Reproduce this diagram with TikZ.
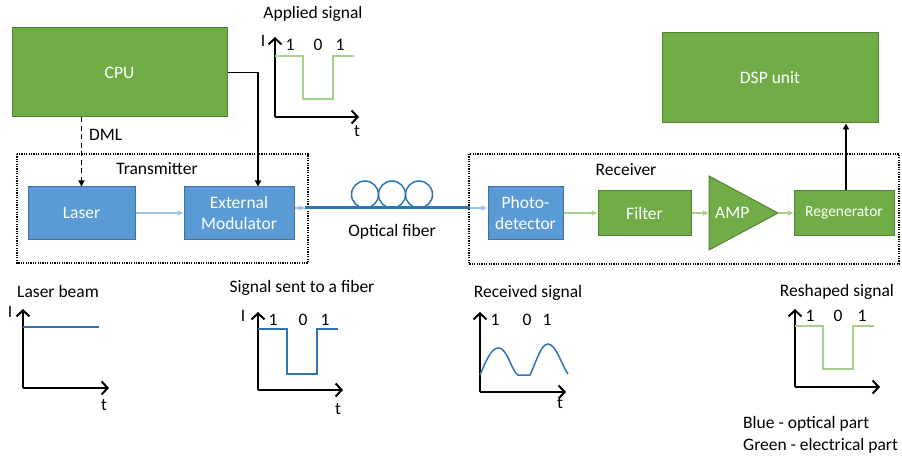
\documentclass[tikz,border=0pt]{standalone}
\usepackage{fontspec}
\setmainfont{Carlito}
\usetikzlibrary{arrows.meta,calc}
\definecolor{ggreen}{HTML}{70AD47}
\definecolor{gborder}{HTML}{548235}
\definecolor{bblue}{HTML}{5B9BD5}
\definecolor{bborder}{HTML}{41719C}
\definecolor{lgreen}{HTML}{A9D18E}
\definecolor{lblue}{HTML}{9DC3E6}
\definecolor{sblue}{HTML}{2E75B6}
\begin{document}
\begin{tikzpicture}[x=1pt,y=-1pt,
  every node/.style={font=\fontsize{17.5}{21}\selectfont, inner sep=0pt},
  gbox/.style={draw=gborder, line width=1pt, fill=ggreen, text=white, align=center},
  bbox/.style={draw=bborder, line width=1pt, fill=bblue, text=white, align=center},
  group/.style={draw=black, line width=1.4pt, dash pattern=on 1.2pt off 1.2pt},
  blk/.style={draw=black, line width=1.8pt, -{Triangle[length=6pt,width=6pt]}},
  lbarrow/.style={draw=lblue, line width=1.2pt, -{Triangle[length=6pt,width=5pt]}},
  lgarrow/.style={draw=lgreen, line width=1.5pt, -{Triangle[length=6pt,width=5pt]}},
  axis/.style={draw=black, line width=2pt, -{Straight Barb[length=6pt,width=13pt,line width=2pt]}},
  gsig/.style={draw=lgreen, line width=1.8pt},
  bsig/.style={draw=sblue, line width=1.5pt},
  lbl/.style={text=black}
]
\useasboundingbox (0,0) rectangle (902,457);

% main blocks
\node[gbox, minimum width=215pt, minimum height=89pt] (CPU) at (119.5,72.5) {CPU};
\node[gbox, minimum width=216pt, minimum height=90pt] (DSP) at (770,78) {DSP unit};
\node[bbox, minimum width=107pt, minimum height=52pt] (Laser) at (81.5,213) {Laser};
\node[bbox, minimum width=110pt, minimum height=52pt] (ExtMod) at (239,213) {External\\Modulator};
\node[bbox, minimum width=75pt, minimum height=52pt] (Photo) at (525.5,213) {Photo-\\detector};
\node[gbox, minimum width=93pt, minimum height=44pt] (Filter) at (644.5,213) {Filter};
\node[gbox, minimum width=100pt, minimum height=44pt, font=\fontsize{15.5}{19}\selectfont] (Regen) at (844,213) {Regenerator};
\draw[gborder, line width=1pt, fill=ggreen] (709,176) -- (778,213) -- (709,250) -- cycle;
\coordinate (ampin) at (709,213);
\coordinate (ampout) at (778,213);
\node[text=white, anchor=west] (AMP) at (715,213) {AMP};

% group boxes
\draw[group] (17,154) rectangle (308,263);
\draw[group] (469,154) rectangle (899,264);
\node (tx) at (157,169) {Transmitter};
\node (rx) at (626,170) {Receiver};

% connectors
\draw[blk, dash pattern=on 5pt off 3.5pt] (Laser.north |- CPU.south) -- (Laser.north);
\node[anchor=west] (dml) at (89,135) {DML};
\draw[blk] (CPU.east) -| ($(ExtMod.north)+(19,0)$);
\draw[lbarrow] (Laser.east) -- (ExtMod.west);
\coordinate (f1) at (305,208);
\coordinate (f2) at (470,208);
\draw[lbarrow] (ExtMod.east |- f1) -- (f1);
\draw[sblue, line width=3pt] (f1) -- (f2);
\draw[lbarrow] (f2) -- (Photo.west |- f2);
\foreach \cx in {365,392,419}
  \draw[sblue, line width=1.5pt] (\cx,194.5) circle (13.5pt);
\node (ofiber) at (392,232) {Optical fiber};
\draw[lgarrow] (Photo.east) -- (Filter.west);
\draw[lgarrow] (Filter.east) -- (ampin);
\draw[lgarrow] (ampout) -- (Regen.west);
\draw[blk] ($(Regen.north)+(2,0)$) -- ($(DSP.south)+(76,0)$);

% Applied signal
\node (t1) at (313,14) {Applied signal};
\coordinate (o1) at (275,117);
\draw[axis] (o1) -- (275,37);
\draw[axis] (o1) -- (359,117);
\node (I1) at (263,41) {I};
\node (tt1) at (357,131) {t};
\draw[gsig] (275,56) -- (303,56) -- (303,99) -- (333,99) -- (333,56) -- (354,56);
\node at (290,45) {1};
\node at (318,45) {0};
\node at (340,45) {1};

% Laser beam
\node (t2) at (58,291) {Laser beam};
\coordinate (o2) at (23,388);
\draw[axis] (o2) -- (23,309);
\draw[axis] (o2) -- (109,388);
\node at (10,312) {I};
\node at (104,405) {t};
\draw[bsig] (23,327) -- (99,327);

% Signal sent to a fiber
\node (t3) at (302,288) {Signal sent to a fiber};
\coordinate (o3) at (258,390);
\draw[axis] (o3) -- (258,312);
\draw[axis] (o3) -- (343,390);
\node at (243,316) {I};
\node at (338,409) {t};
\draw[bsig] (258,329) -- (287,329) -- (287,374) -- (317,374) -- (317,329) -- (338,329);
\node at (273,320) {1};
\node at (303,320) {0};
\node at (325,320) {1};

% Received signal
\node (t4) at (528,293) {Received signal};
\coordinate (o4) at (480,392);
\draw[axis] (o4) -- (480,312);
\draw[axis] (o4) -- (566,392);
\node at (560,403) {t};
\draw[bsig] (480,375) .. controls (488,356) and (492,348) .. (499,348)
  .. controls (507,348) and (512,372) .. (518,375) -- (530,375)
  .. controls (537,360) and (541,344) .. (548,344)
  .. controls (556,344) and (562,366) .. (568,374);
\node at (495,320) {1};
\node at (527,320) {0};
\node at (547,320) {1};

% Reshaped signal
\node (t5) at (837,292) {Reshaped signal};
\coordinate (o5) at (795,387);
\draw[axis] (o5) -- (795,309);
\draw[axis] (o5) -- (880,387);
\draw[gsig] (795,326) -- (823,326) -- (823,369) -- (853,369) -- (853,326) -- (874,326);
\node at (810,316) {1};
\node at (838,316) {0};
\node at (862,316) {1};

% legend
\node[anchor=west] (leg1) at (743,424) {Blue - optical part};
\node[anchor=west] (leg2) at (743,446) {Green - electrical part};
\end{tikzpicture}
\end{document}
